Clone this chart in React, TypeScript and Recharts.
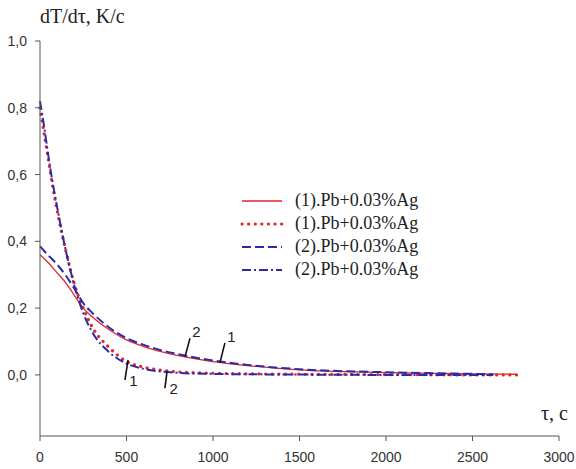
import { LineChart, Line, XAxis, YAxis, ReferenceLine, ReferenceDot } from 'recharts';

// time, s
const tSmooth = [0, 50, 100, 150, 200, 250, 300, 400, 500, 600, 700, 800, 1000, 1200, 1500, 2000, 2500, 2750];
const tSmoothB = [0, 50, 100, 150, 200, 250, 300, 400, 500, 600, 700, 800, 1000, 1200, 1500, 2000, 2400, 2620];
const tSteep = [0, 25, 50, 75, 100, 150, 200, 250, 300, 400, 500, 600, 700, 800, 1000, 1500, 2000, 2500, 2760];
const tSteepB = [0, 25, 50, 75, 100, 150, 200, 250, 300, 400, 500, 600, 700, 800, 1000, 1500, 2000, 2400, 2620];

// dT/dτ, K/s
const solidRed = [0.36, 0.335, 0.305, 0.275, 0.237, 0.2, 0.175, 0.135, 0.105, 0.085, 0.07, 0.058, 0.04, 0.028, 0.015, 0.007, 0.003, 0.002];
const dashedBlue = [0.385, 0.357, 0.33, 0.297, 0.257, 0.215, 0.187, 0.142, 0.11, 0.09, 0.074, 0.062, 0.043, 0.03, 0.017, 0.008, 0.004, 0.002];
const dottedRed = [0.8, 0.72, 0.64, 0.56, 0.49, 0.37, 0.27, 0.2, 0.145, 0.082, 0.04, 0.023, 0.014, 0.009, 0.005, 0.002, 0.001, 0, 0];
const dashDotBlue = [0.82, 0.74, 0.65, 0.57, 0.5, 0.37, 0.265, 0.185, 0.13, 0.068, 0.034, 0.018, 0.01, 0.006, 0.003, 0.001, 0, 0, 0];

const xTicks = [0, 500, 1000, 1500, 2000, 2500, 3000];
const yTicks = [0, 0.2, 0.4, 0.6, 0.8, 1.0];

const seriesNames = ['(1).Pb+0.03%Ag', '(1).Pb+0.03%Ag', '(2).Pb+0.03%Ag', '(2).Pb+0.03%Ag'];

const zip = (t: number[], v: number[]) => t.map((x, i) => ({ t: x, v: v[i] }));

// curve markers: leader line from -> to, number at text
const markers = [
  { n: '2', from: [838, 0.054], to: [867, 0.11], text: [880, 0.125] },
  { n: '1', from: [1040, 0.036], to: [1069, 0.096], text: [1082, 0.11] },
  { n: '1', from: [491, -0.015], to: [509, 0.045], text: [516, -0.022] },
  { n: '2', from: [722, -0.04], to: [734, 0.01], text: [748, -0.046] },
];

const RED = '#e0262a';
const BLUE = '#2b2ba6';
const AXIS = '#555';
const TICK_FONT = { fill: '#333', fontSize: 14, fontFamily: '"Liberation Sans", Arial' };

const styles = [
  { color: RED, dash: undefined, width: 1.3 },
  { color: RED, dash: '0.1 6.5', width: 3.2 },
  { color: BLUE, dash: '9 4', width: 2 },
  { color: BLUE, dash: '9 3 2 3', width: 2 },
];

function LegendBox() {
  return (
    <div style={{ position: 'absolute', left: 240, top: 189, fontFamily: '"Liberation Serif", serif', fontSize: 18, color: '#222' }}>
      {seriesNames.map((name, i) => (
        <div key={i} style={{ display: 'flex', alignItems: 'center', height: 23 }}>
          <svg width={44} height={10}>
            <line x1={2} y1={5} x2={42} y2={5} stroke={styles[i].color} strokeWidth={styles[i].width}
              strokeDasharray={styles[i].dash} strokeLinecap={i === 1 ? 'round' : 'butt'} />
          </svg>
          <span style={{ marginLeft: 11 }}>{name}</span>
        </div>
      ))}
    </div>
  );
}

export default function App() {
  return (
    <div style={{ position: 'absolute', left: 0, top: 0, width: 576, height: 469, background: '#fff' }}>
      <LineChart width={576} height={469} margin={{ top: 41, right: 17, bottom: 0, left: 0 }}>
        <XAxis type="number" dataKey="t" domain={[0, 3000]} ticks={xTicks} height={33}
          stroke={AXIS} tickSize={5} tickMargin={11} tick={TICK_FONT} allowDuplicatedCategory={false} />
        <YAxis type="number" dataKey="v" domain={[-0.183, 1]} ticks={yTicks} width={40}
          stroke={AXIS} tickSize={5} tickMargin={8} allowDataOverflow
          tickFormatter={(v: number) => v.toFixed(1).replace('.', ',')} tick={TICK_FONT} />
        <Line data={zip(tSmooth, solidRed)} dataKey="v" name={seriesNames[0]} stroke={RED} strokeWidth={1.3}
          dot={false} type="monotone" isAnimationActive={false} />
        <Line data={zip(tSteep, dottedRed)} dataKey="v" name={seriesNames[1]} stroke={RED} strokeWidth={3.2}
          strokeDasharray="0.1 6.5" strokeLinecap="round" dot={false} type="monotone" isAnimationActive={false} />
        <Line data={zip(tSmoothB, dashedBlue)} dataKey="v" name={seriesNames[2]} stroke={BLUE} strokeWidth={2}
          strokeDasharray="9 4" dot={false} type="monotone" isAnimationActive={false} />
        <Line data={zip(tSteepB, dashDotBlue)} dataKey="v" name={seriesNames[3]} stroke={BLUE} strokeWidth={2}
          strokeDasharray="9 3 2 3" dot={false} type="monotone" isAnimationActive={false} />
        {markers.map((m, i) => (
          <ReferenceLine key={'l' + i} segment={[{ x: m.from[0], y: m.from[1] }, { x: m.to[0], y: m.to[1] }]}
            stroke="#111" strokeWidth={1.6} ifOverflow="visible" />
        ))}
        {markers.map((m, i) => (
          <ReferenceDot key={'d' + i} x={m.text[0]} y={m.text[1]} r={0} ifOverflow="visible"
            shape={(p: any) => (
              <text x={p.cx} y={p.cy} fontSize={15} fontFamily='"Liberation Sans", Arial' fill="#222" dominantBaseline="middle">
                {m.n}
              </text>
            )} />
        ))}
      </LineChart>
      <LegendBox />
      <div style={{ position: 'absolute', left: 40, top: 5, fontFamily: '"Liberation Serif", serif', fontSize: 20, color: '#222' }}>
        dT/dτ, K/c
      </div>
      <div style={{ position: 'absolute', left: 541, top: 402, fontFamily: '"Liberation Serif", serif', fontSize: 20, color: '#222' }}>
        τ, c
      </div>
    </div>
  );
}
